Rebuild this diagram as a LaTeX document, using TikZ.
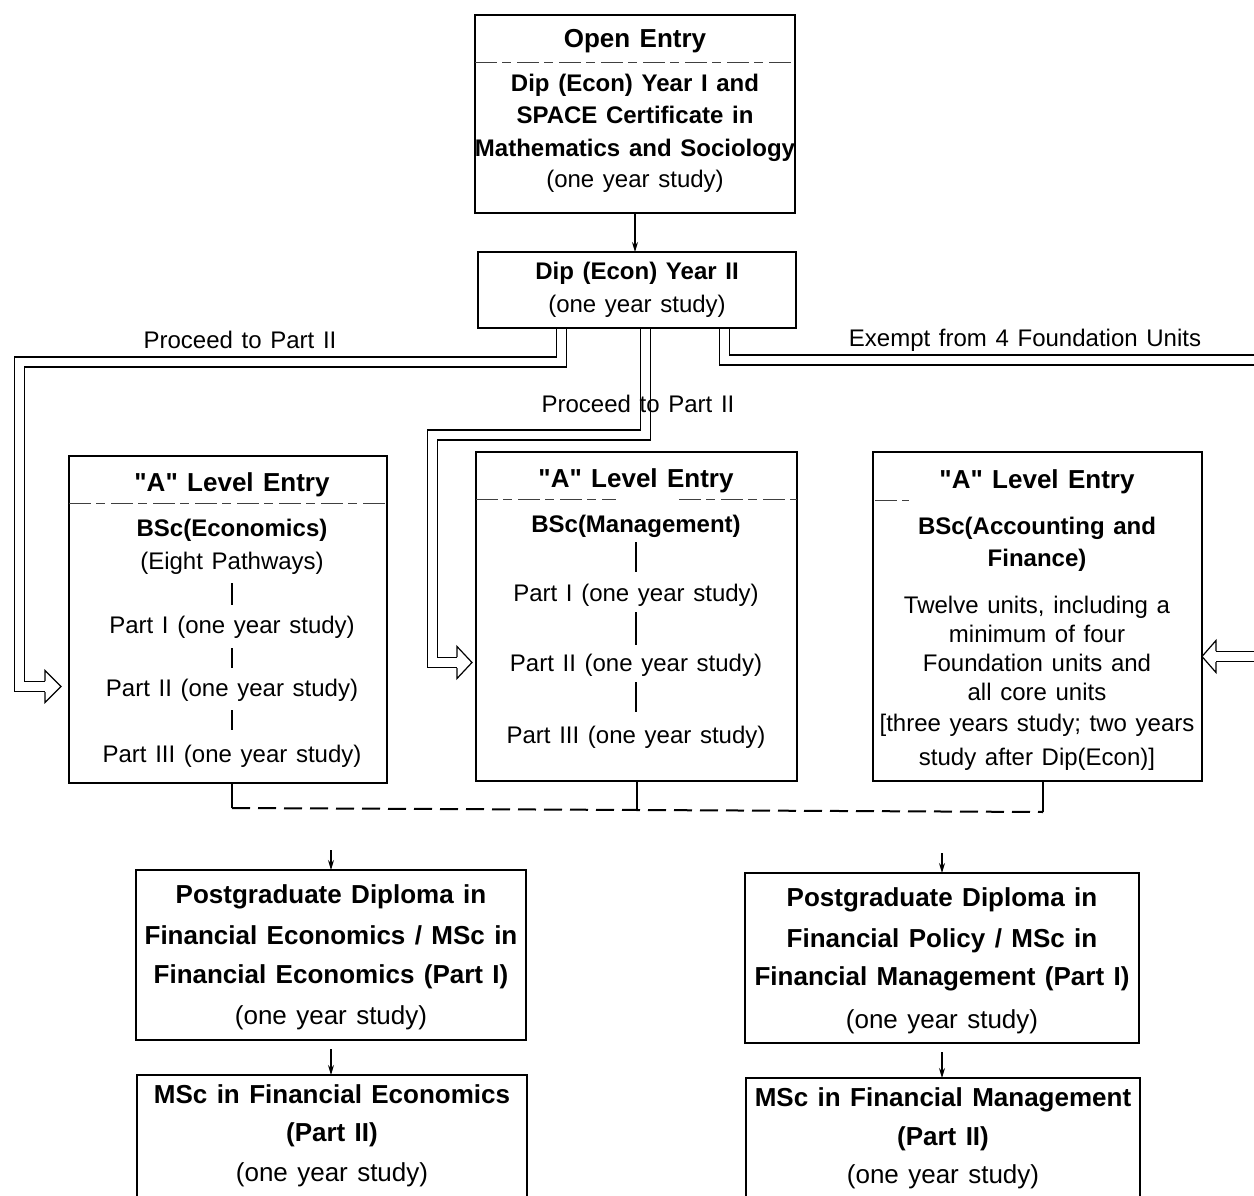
\documentclass[tikz,border=0pt]{standalone}
\usepackage{fontspec}
\setmainfont{Liberation Sans}[WordSpace=1.3, Ligatures=TeXOff]
\usetikzlibrary{calc,arrows.meta}
\begin{document}
\begin{tikzpicture}[x=1pt,y=-1pt,
  box/.style={draw, line width=1.6pt, inner sep=0pt, outer sep=0pt},
  txt/.style={anchor=base, inner sep=0pt, font=\fontsize{24}{28}\selectfont},
  txtb/.style={anchor=base, inner sep=0pt, font=\fontsize{24}{28}\selectfont\bfseries},
  ttl/.style={anchor=base, inner sep=0pt, font=\fontsize{26}{28}\selectfont\bfseries},
  pgt/.style={anchor=base, inner sep=0pt, font=\fontsize{26}{30}\selectfont\bfseries},
  pgn/.style={anchor=base, inner sep=0pt, font=\fontsize{26}{30}\selectfont},
  sep/.style={line width=0.8pt, black!75, dash pattern=on 22pt off 5pt on 9pt off 6pt},
  bar/.style={line width=1.2pt},
  arr/.style={line width=1.1pt, -{Stealth[length=10pt,width=6pt]}},
  dbl/.style={draw, double, double distance=8.5pt, line width=1.3pt, line join=miter},
  head/.style={line width=1.2pt, line join=miter},
  bus/.style={line width=2pt, dash pattern=on 18pt off 8pt},
  drop/.style={line width=2pt}]
\path[use as bounding box] (0,0) rectangle (1254,1196);
\clip (0,0) rectangle (1254,1196);

% boxes
\node[box, minimum width=320pt, minimum height=198pt] (open) at (635,114) {};
\node[box, minimum width=318pt, minimum height=76pt] (dip2) at (637,290) {};
\node[box, minimum width=318pt, minimum height=327pt] (econ) at (228,619.5) {};
\node[box, minimum width=321pt, minimum height=329pt] (mgmt) at (636.5,616.5) {};
\node[box, minimum width=329pt, minimum height=329pt] (acct) at (1037.5,616.5) {};
\node[box, minimum width=390pt, minimum height=170pt] (pgl) at (331,955) {};
\node[box, minimum width=390pt, minimum height=160pt] (mscl) at (332,1155) {};
\node[box, minimum width=394pt, minimum height=170pt] (pgr) at (942,958) {};
\node[box, minimum width=394pt, minimum height=160pt] (mscr) at (943,1158) {};

% separators
\draw[sep] ($(open.north west)+(0,47)$) -- ($(open.north east)+(0,47)$);
\draw[sep] ($(econ.north west)+(0,47)$) -- ($(econ.north east)+(0,47)$);
\draw[sep] ($(mgmt.north west)+(0,47)$) -- ($(mgmt.north west)+(140,47)$);
\draw[sep] ($(mgmt.north east)+(-118,47)$) -- ($(mgmt.north east)+(0,47)$);
\draw[sep] ($(acct.north west)+(2,48)$) -- ($(acct.north west)+(36,48)$);

% texts: top
\node[ttl] (oe) at (635,48) {Open Entry};
\node[txtb] (o1) at (635,92) {Dip (Econ) Year I and};
\node[txtb] (o2) at (635,124) {SPACE Certificate in};
\node[txtb] (o3) at (635,157) {Mathematics and Sociology};
\node[txt] (o4) at (635,188) {(one year study)};
% dip II
\node[txtb] (d1) at (637,279) {Dip (Econ) Year II};
\node[txt] (d2) at (637,312) {(one year study)};
% econ
\node[ttl] (e0) at (232,491) {"A" Level Entry};
\node[txtb] (e1) at (232,536) {BSc(Economics)};
\node[txt] (e2) at (232,569) {(Eight Pathways)};
\node[txt] (e3) at (232,633) {Part I (one year study)};
\node[txt] (e4) at (232,696) {Part II (one year study)};
\node[txt] (e5) at (232,762) {Part III (one year study)};
\draw[bar] ($(e2.base)+(0,14)$) -- ($(e3.base)+(0,-28)$);
\draw[bar] ($(e3.base)+(0,15)$) -- ($(e4.base)+(0,-28)$);
\draw[bar] ($(e4.base)+(0,14)$) -- ($(e5.base)+(0,-32)$);
% management
\node[ttl] (m0) at (636,487) {"A" Level Entry};
\node[txtb] (m1) at (636,532) {BSc(Management)};
\node[txt] (m2) at (636,601) {Part I (one year study)};
\node[txt] (m3) at (636,671) {Part II (one year study)};
\node[txt] (m4) at (636,743) {Part III (one year study)};
\draw[bar] ($(m1.base)+(0,10)$) -- ($(m2.base)+(0,-29)$);
\draw[bar] ($(m2.base)+(0,11)$) -- ($(m3.base)+(0,-26)$);
\draw[bar] ($(m3.base)+(0,11)$) -- ($(m4.base)+(0,-31)$);
% accounting
\node[ttl] (a0) at (1037,488) {"A" Level Entry};
\node[txtb] (a1) at (1037,534) {BSc(Accounting and};
\node[txtb] (a2) at (1037,566) {Finance)};
\node[txt] (a3) at (1037,613) {Twelve units, including a};
\node[txt] (a4) at (1037,642) {minimum of four};
\node[txt] (a5) at (1037,671) {Foundation units and};
\node[txt] (a6) at (1037,700) {all core units};
\node[txt] (a7) at (1037,731) {[three years study; two years};
\node[txt] (a8) at (1037,765) {study after Dip(Econ)]};
% postgraduate left
\node[pgt] (p1) at (331,903) {Postgraduate Diploma in};
\node[pgt] (p2) at (331,944) {Financial Economics / MSc in};
\node[pgt] (p3) at (331,983) {Financial Economics (Part I)};
\node[pgn] (p4) at (331,1024) {(one year study)};
\node[pgt] (q1) at (332,1103) {MSc in Financial Economics};
\node[pgt] (q2) at (332,1141) {(Part II)};
\node[pgn] (q3) at (332,1181) {(one year study)};
% postgraduate right
\node[pgt] (r1) at (942,906) {Postgraduate Diploma in};
\node[pgt] (r2) at (942,947) {Financial Policy / MSc in};
\node[pgt] (r3) at (942,985) {Financial Management (Part I)};
\node[pgn] (r4) at (942,1028) {(one year study)};
\node[pgt] (s1) at (943,1106) {MSc in Financial Management};
\node[pgt] (s2) at (943,1145) {(Part II)};
\node[pgn] (s3) at (943,1183) {(one year study)};

% simple arrows
\draw[arr] (open.south) -- (open.south |- dip2.north);
\coordinate (inL) at (331,850);
\coordinate (inR) at (942,853);
\draw[arr] (inL) -- (pgl.north);
\draw[arr] (inR) -- (pgr.north);
\draw[arr, shorten <=9pt] (pgl.south) -- (pgl.south |- mscl.north);
\draw[arr, shorten <=9pt] (pgr.south) -- (pgr.south |- mscr.north);

% dashed bus
\coordinate (bA) at (232,808);
\coordinate (bB) at (636.5,810);
\coordinate (bC) at (1043,812);
\draw[drop] ($(econ.south)+(4,0)$) -- (bA);
\draw[drop] (mgmt.south) -- (bB);
\draw[drop] ($(acct.south)+(5.5,0)$) -- (bC);
\draw[bus] (bA) -- (bC);

% double-line arrows
\coordinate (tipE) at ($(econ.west)+(-8,67)$);
\coordinate (baseE) at ($(tipE)+(-16,0)$);
\coordinate (L1) at (561.5,362);
\coordinate (L2) at (19.5,686.5);
\draw[dbl, shorten <=0.8pt] ($(dip2.south)+(-75.5,0)$) -- (L1) -| (L2) -- (baseE);
\draw[head] ($(baseE)+(0,-5.5)$) -- ($(baseE)+(0,-16)$) -- (tipE) -- ($(baseE)+(0,16)$) -- ($(baseE)+(0,5.5)$);

\coordinate (tipM) at ($(mgmt.west)+(-4,46)$);
\coordinate (baseM) at ($(tipM)+(-15,0)$);
\coordinate (M1) at (645.5,435);
\coordinate (M2) at (432.5,662.5);
\draw[dbl, shorten <=0.8pt] ($(dip2.south)+(8.5,0)$) -- (M1) -| (M2) -- (baseM);
\draw[head] ($(baseM)+(0,-5.5)$) -- ($(baseM)+(0,-16)$) -- (tipM) -- ($(baseM)+(0,16)$) -- ($(baseM)+(0,5.5)$);

\coordinate (R1) at (724.5,360);
\coordinate (offR) at (1262,360);
\draw[dbl, shorten <=0.8pt] ($(dip2.south)+(87.5,0)$) -- (R1) -- (offR);

\coordinate (tipA) at ($(acct.east)+(0,40)$);
\coordinate (baseA) at ($(tipA)+(14,0)$);
\coordinate (offR2) at (1262,656.5);
\draw[dbl] (offR2) -- (baseA);
\draw[head] ($(baseA)+(0,-5.5)$) -- ($(baseA)+(0,-16)$) -- (tipA) -- ($(baseA)+(0,16)$) -- ($(baseA)+(0,5.5)$);

% labels (drawn last so the lines do not hide them)
\node[txt] (lp1) at (240,348) {Proceed to Part II};
\node[txt] (lp2) at (638,412) {Proceed to Part II};
\node[txt] (lex) at (1025,346) {Exempt from 4 Foundation Units};
\end{tikzpicture}
\end{document}
